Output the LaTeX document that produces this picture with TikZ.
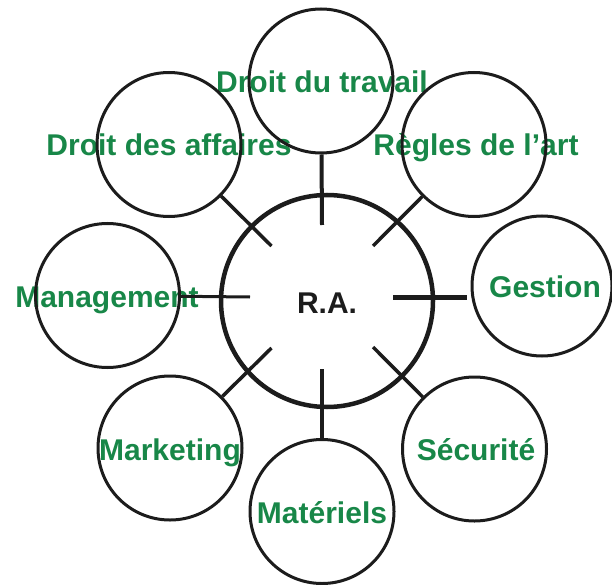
\documentclass[tikz,border=0pt]{standalone}
\usepackage{fontspec}
\setmainfont{Liberation Sans}
\definecolor{lblgreen}{RGB}{24,135,72}
\definecolor{ink}{RGB}{28,28,28}
\begin{document}
\begin{tikzpicture}[x=1bp,y=-1bp,
  outer/.style={circle,draw=ink,line width=3bp,minimum size=144bp,inner sep=0pt},
  hubc/.style={circle,draw=ink,line width=4.5bp,minimum size=212bp,inner sep=0pt},
  spoke/.style={draw=ink,line width=3.5bp},
  lbl/.style={font=\bfseries\fontsize{30bp}{36bp}\selectfont,text=lblgreen,anchor=base,inner sep=0pt}]
\useasboundingbox (0,0) rectangle (612,585);
% labels (drawn first: the lines pass over them)
\node[lbl] (l-top) at (322,92.5) {Droit du travail};
\node[lbl] (l-dda) at (169,155.5) {Droit des affaires};
\node[lbl] (l-rda) at (476,155.5) {Règles de l’art};
\node[lbl] (l-mgt) at (107,307.5) {Management};
\node[lbl] (l-ges) at (545,297.5) {Gestion};
\node[lbl,text=ink] (l-ra) at (327,313) {R.A.};
\node[lbl] (l-mkt) at (170,460.5) {Marketing};
\node[lbl] (l-mat) at (322,523) {Matériels};
\node[lbl] (l-sec) at (476,460.5) {Sécurité};
% circles
\node[hubc] (ra) at (327,301) {};
\node[outer] (top) at (321,81) {};
\node[outer] (dda) at (169,144.5) {};
\node[outer] (rda) at (474,144.5) {};
\node[outer] (mgt) at (107.5,295.5) {};
\node[outer,minimum size=140bp] (ges) at (542,286) {};
\node[outer] (mkt) at (170,448) {};
\node[outer] (mat) at (322,511.5) {};
\node[outer] (sec) at (474.5,449) {};
% spoke ends
\coordinate (sT) at (322,225);
\coordinate (sB) at (322,369);
\coordinate (sL) at (250,297);
\coordinate (sR) at (393,297);
\coordinate (sTL) at (271.5,246);
\coordinate (sTR) at (373,246);
\coordinate (sBL) at (271.5,348);
\coordinate (sBR) at (373,347);
% spokes
\draw[spoke,line width=4bp] (top) -- (sT);
\draw[spoke] (dda) -- (sTL);
\draw[spoke] (rda) -- (sTR);
\draw[spoke,line width=3bp] (mgt) -- (sL);
\draw[spoke,line width=5bp,shorten >=4bp] (sR) -- (sR -| ges.west);
\draw[spoke] (mkt) -- (sBL);
\draw[spoke] (mat) -- (sB);
\draw[spoke] (sec) -- (sBR);
\end{tikzpicture}
\end{document}
